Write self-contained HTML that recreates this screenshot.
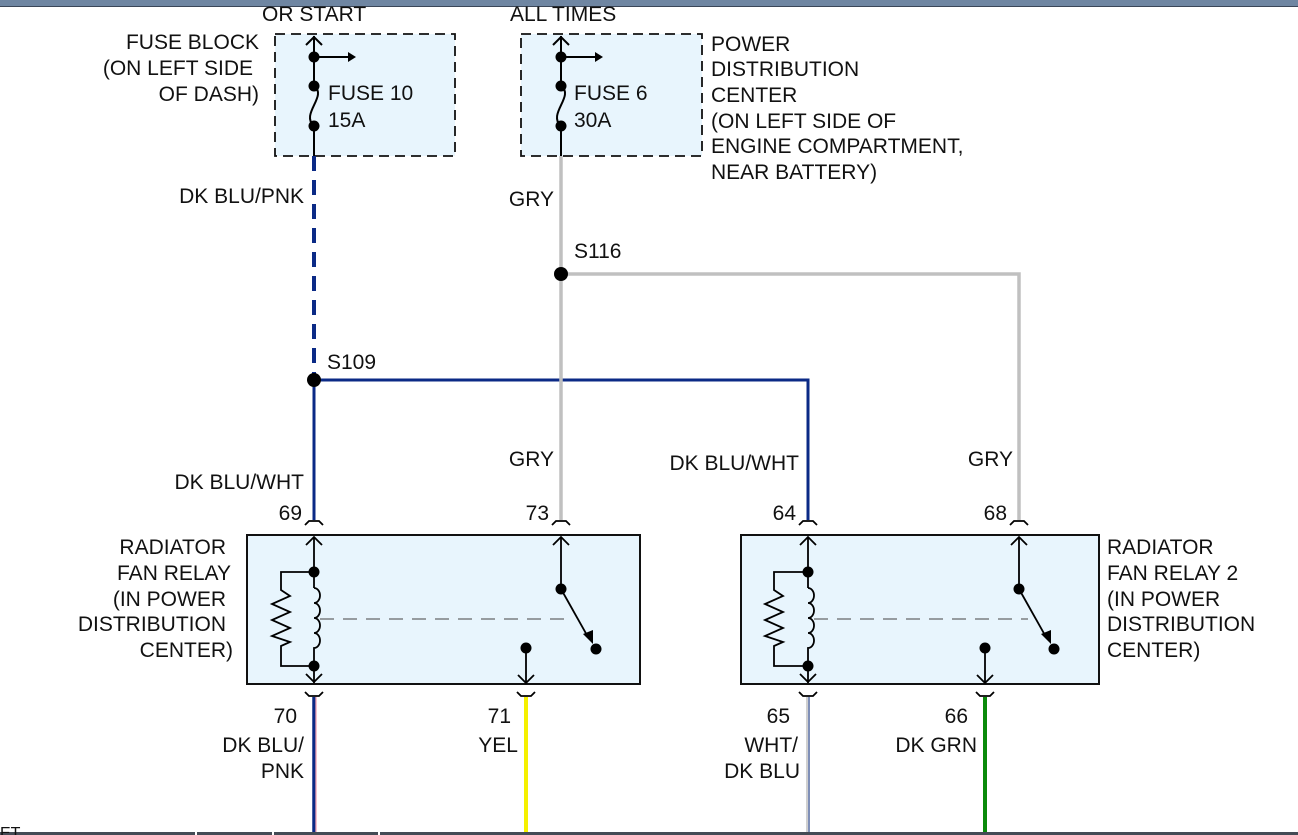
<!DOCTYPE html>
<html><head><meta charset="utf-8"><style>
body{margin:0;background:#fff;}
svg{display:block;font-family:"Liberation Sans",sans-serif;}
text{font-size:21px;fill:#111;}
</style></head><body>
<svg width="1298" height="835" viewBox="0 0 1298 835" xmlns="http://www.w3.org/2000/svg">
<rect x="0" y="0" width="1298" height="7" fill="#6f86a2"/>
<rect x="0" y="6" width="1298" height="1" fill="#3a4658"/>
<rect x="0" y="832" width="1298" height="3" fill="#444b55"/>
<rect x="195" y="832" width="2" height="3" fill="#fff"/><rect x="272" y="832" width="2" height="3" fill="#fff"/><rect x="378" y="832" width="2" height="3" fill="#fff"/>

<rect x="275" y="34" width="180" height="122" fill="#e8f5fd" stroke="#111" stroke-width="1.8" stroke-dasharray="10,6"/>
<rect x="521" y="34" width="181" height="122" fill="#e8f5fd" stroke="#111" stroke-width="1.8" stroke-dasharray="10,6"/>

<line x1="314" y1="156" x2="314" y2="380" stroke="#0b2a86" stroke-width="4" stroke-dasharray="15,9"/>
<line x1="314" y1="380" x2="314" y2="520" stroke="#0b2a86" stroke-width="3"/>
<polyline points="314,380 808,380 808,520" fill="none" stroke="#0b2a86" stroke-width="3"/>
<line x1="561" y1="156" x2="561" y2="520" stroke="#c0c0c0" stroke-width="3.5"/>
<polyline points="561,274 1019,274 1019,520" fill="none" stroke="#c0c0c0" stroke-width="3.5"/>
<circle cx="314" cy="380" r="7" fill="#000"/>
<circle cx="561" cy="274" r="7" fill="#000"/>

<line x1="314" y1="697" x2="314" y2="832" stroke="#0b2a86" stroke-width="3.5"/>
<line x1="316" y1="697" x2="316" y2="832" stroke="#f0a0b0" stroke-width="1.3"/>
<line x1="526" y1="697" x2="526" y2="832" stroke="#f5f000" stroke-width="4"/>
<line x1="808" y1="697" x2="808" y2="832" stroke="#d0d0d0" stroke-width="4"/>
<line x1="809" y1="697" x2="809" y2="832" stroke="#3050a0" stroke-width="1"/>
<line x1="985" y1="697" x2="985" y2="832" stroke="#0a8a0a" stroke-width="4"/>

<g stroke="#000" stroke-width="2" fill="none">
<line x1="314" y1="36" x2="314" y2="86"/><polyline points="306,45 314,37 322,45"/>
<line x1="314" y1="57" x2="350" y2="57"/>
<path d="M314,86 C328,96 300,114 314,126"/><line x1="314" y1="126" x2="314" y2="156"/>
<line x1="561" y1="36" x2="561" y2="86"/><polyline points="553,45 561,37 569,45"/>
<line x1="561" y1="57" x2="597" y2="57"/>
<path d="M561,86 C575,96 547,114 561,126"/><line x1="561" y1="126" x2="561" y2="156"/>
</g>
<polygon points="348,52 356,57 348,62" fill="#000"/>
<polygon points="595,52 603,57 595,62" fill="#000"/>
<g fill="#000"><circle cx="314" cy="57" r="5.5"/><circle cx="314" cy="86" r="5.5"/><circle cx="314" cy="126" r="5.5"/>
<circle cx="561" cy="57" r="5.5"/><circle cx="561" cy="86" r="5.5"/><circle cx="561" cy="126" r="5.5"/></g>

<rect x="247" y="535" width="393" height="149" fill="#e8f5fd" stroke="#111" stroke-width="2"/>
<rect x="741" y="535" width="358" height="149" fill="#e8f5fd" stroke="#111" stroke-width="2"/>

<g stroke="#000" stroke-width="1.8" fill="none">
<path d="M305,525 L309,521 H319 L323,525"/><path d="M552,525 L556,521 H566 L570,525"/>
<path d="M799,525 L803,521 H813 L817,525"/><path d="M1010,525 L1014,521 H1024 L1028,525"/>
<path d="M305,692 L309,696 H319 L323,692"/><path d="M517,692 L521,696 H531 L535,692"/>
<path d="M799,692 L803,696 H813 L817,692"/><path d="M976,692 L980,696 H990 L994,692"/>
<line x1="314" y1="537" x2="314" y2="588"/><polyline points="306,545 314,537 322,545"/>
<polyline points="314,572 281,572 281,590 290,596 272,604 290,612 272,620 290,628 272,636 290,642 281,646 281,666 314,666 314,683"/>
<path d="M314,588 a6,7.5 0 0 1 0,15 a6,7.5 0 0 1 0,15 a6,7.5 0 0 1 0,15 a6,7.5 0 0 1 0,15 L314,666"/>
<polyline points="306,674 314,682 322,674"/>
<line x1="561" y1="537" x2="561" y2="589"/><polyline points="553,545 561,537 569,545"/>
<line x1="561" y1="589" x2="588" y2="637"/>
<line x1="526" y1="648" x2="526" y2="683"/><polyline points="518,675 526,683 534,675"/>
<line x1="320" y1="619" x2="570" y2="619" stroke-width="1" stroke-dasharray="14,9" stroke="#444"/>
<line x1="808" y1="537" x2="808" y2="588"/><polyline points="800,545 808,537 816,545"/>
<polyline points="808,572 774,572 774,590 783,596 765,604 783,612 765,620 783,628 765,636 783,642 774,646 774,666 808,666 808,683"/>
<path d="M808,588 a6,7.5 0 0 1 0,15 a6,7.5 0 0 1 0,15 a6,7.5 0 0 1 0,15 a6,7.5 0 0 1 0,15 L808,666"/>
<polyline points="800,674 808,682 816,674"/>
<line x1="1019" y1="537" x2="1019" y2="589"/><polyline points="1011,545 1019,537 1027,545"/>
<line x1="1019" y1="589" x2="1046" y2="637"/>
<line x1="985" y1="648" x2="985" y2="683"/><polyline points="977,675 985,683 993,675"/>
<line x1="814" y1="619" x2="1028" y2="619" stroke-width="1" stroke-dasharray="14,9" stroke="#444"/>
</g>
<g fill="#000">
<circle cx="314" cy="572" r="5.5"/><circle cx="314" cy="666" r="5.5"/><circle cx="561" cy="589" r="5.5"/><circle cx="596" cy="649" r="5.5"/><circle cx="526" cy="648" r="5.5"/>
<polygon points="583,634 593,644 593,630"/>
<circle cx="808" cy="572" r="5.5"/><circle cx="808" cy="666" r="5.5"/><circle cx="1019" cy="589" r="5.5"/><circle cx="1054" cy="649" r="5.5"/><circle cx="985" cy="648" r="5.5"/>
<polygon points="1041,634 1051,644 1051,630"/>
</g>

<text x="262" y="21">OR START</text>
<text x="510" y="21">ALL TIMES</text>
<text x="259" y="49" text-anchor="end">FUSE BLOCK</text>
<text x="253" y="75" text-anchor="end">(ON LEFT SIDE</text>
<text x="259" y="101" text-anchor="end">OF DASH)</text>
<text x="328" y="100">FUSE 10</text><text x="328" y="127">15A</text>
<text x="574" y="100">FUSE 6</text><text x="574" y="127">30A</text>
<text x="711" y="51">POWER</text><text x="711" y="76">DISTRIBUTION</text><text x="711" y="102">CENTER</text>
<text x="711" y="128">(ON LEFT SIDE OF</text><text x="711" y="153">ENGINE COMPARTMENT,</text><text x="711" y="179">NEAR BATTERY)</text>
<text x="304" y="203" text-anchor="end">DK BLU/PNK</text>
<text x="554" y="206" text-anchor="end">GRY</text>
<text x="574" y="258">S116</text>
<text x="327" y="369">S109</text>
<text x="554" y="466" text-anchor="end">GRY</text>
<text x="799" y="470" text-anchor="end">DK BLU/WHT</text>
<text x="1013" y="466" text-anchor="end">GRY</text>
<text x="304" y="489" text-anchor="end">DK BLU/WHT</text>
<text x="302" y="520" text-anchor="end">69</text>
<text x="549" y="520" text-anchor="end">73</text>
<text x="796" y="520" text-anchor="end">64</text>
<text x="1007" y="520" text-anchor="end">68</text>
<text x="226" y="554" text-anchor="end">RADIATOR</text><text x="231" y="580" text-anchor="end">FAN RELAY</text>
<text x="226" y="606" text-anchor="end">(IN POWER</text><text x="226" y="631" text-anchor="end">DISTRIBUTION</text><text x="233" y="657" text-anchor="end">CENTER)</text>
<text x="1107" y="554">RADIATOR</text><text x="1107" y="580">FAN RELAY 2</text>
<text x="1107" y="606">(IN POWER</text><text x="1107" y="631">DISTRIBUTION</text><text x="1107" y="657">CENTER)</text>
<text x="297" y="723" text-anchor="end">70</text>
<text x="304" y="752" text-anchor="end">DK BLU/</text><text x="304" y="778" text-anchor="end">PNK</text>
<text x="511" y="723" text-anchor="end">71</text>
<text x="518" y="752" text-anchor="end">YEL</text>
<text x="790" y="723" text-anchor="end">65</text>
<text x="798" y="752" text-anchor="end">WHT/</text><text x="800" y="778" text-anchor="end">DK BLU</text>
<text x="968" y="723" text-anchor="end">66</text>
<text x="977" y="752" text-anchor="end">DK GRN</text>
<text x="0" y="838" style="font-size:16px">ET</text>
</svg>
</body></html>
